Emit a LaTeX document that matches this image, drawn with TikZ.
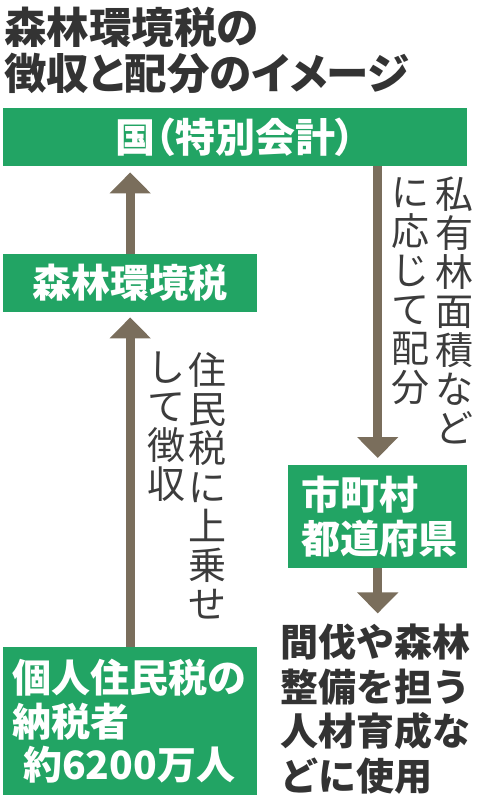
\documentclass[tikz,border=0pt]{standalone}
\usepackage{fontspec}
\setmainfont{Noto Sans CJK JP}
\usetikzlibrary{arrows.meta, positioning, calc}
\definecolor{mgreen}{HTML}{22A464}
\definecolor{mbrown}{HTML}{7A6E5C}
\definecolor{mdark}{HTML}{333333}
\definecolor{mgray}{HTML}{3C3C3C}

\begin{document}
\begin{tikzpicture}[x=1pt, y=-1pt]

\tikzstyle{box} = [rectangle, fill=mgreen, text=white, font=\fontsize{39}{43.5}\selectfont\bfseries, inner sep=0pt, anchor=north west]
\tikzstyle{arrow} = [-{Triangle[width=40pt, length=21pt]}, mbrown, line width=9pt]
\tikzstyle{label} = [text=mgray, font=\fontsize{38}{39}\selectfont, align=center, inner sep=0pt, anchor=north]

\useasboundingbox (0,0) rectangle (480,800);

% Title
\node[anchor=north west, inner sep=0pt, align=left, text=mdark, font=\fontsize{42.5}{46}\selectfont\bfseries\addfontfeatures{RawFeature=+palt}] (title) at (4,7) {森林環境税の\\徴収と配分のイメージ};

% Boxes
\node[box, minimum width=464pt, minimum height=58pt, font=\fontsize{40}{43}\selectfont\bfseries\addfontfeatures{RawFeature=+palt}] (kuni) at (3,108) {国（特別会計）};
\node[box, minimum width=254pt, minimum height=58pt] (zeikin) at (3,254) {森林環境税};
\node[box, minimum width=254pt, minimum height=148pt, align=left, text width=236pt] (nozeisha) at (3,647) {個人住民税の\\納税者\\\hspace{11pt}約6200万人};
\node[box, minimum width=179pt, minimum height=103pt, align=left, text width=153pt] (jichitai) at (288,465) {市町村\\都道府県};

% Use
\node[anchor=north west, inner sep=0pt, align=left, text=mdark, font=\fontsize{38}{44.5}\selectfont\bfseries] (shiyou) at (280,624) {間伐や森林\\整備を担う\\人材育成な\\どに使用};

% Arrows
\draw[arrow, shorten >=6pt] (zeikin.north) -- (zeikin.north |- kuni.south);
\draw[arrow, shorten >=5pt] (nozeisha.north) -- (zeikin.south);
\draw[arrow, shorten >=7pt] (kuni.south -| jichitai.north) -- (jichitai.north);
\draw[arrow] (jichitai.south) -- ($(jichitai.south)+(0,45)$) coordinate (shiyoutip);

% Labels
\node[label] (choushuA) at (207,352) {住\\民\\税\\に\\上\\乗\\せ};
\node[label] (choushuB) at (166,352) {し\\て\\徴\\収};
\node[label] (haibunA) at (454,177) {私\\有\\林\\面\\積\\な\\ど};
\node[label] (haibunB) at (410,177) {に\\応\\じ\\て\\配\\分};

\end{tikzpicture}
\end{document}
